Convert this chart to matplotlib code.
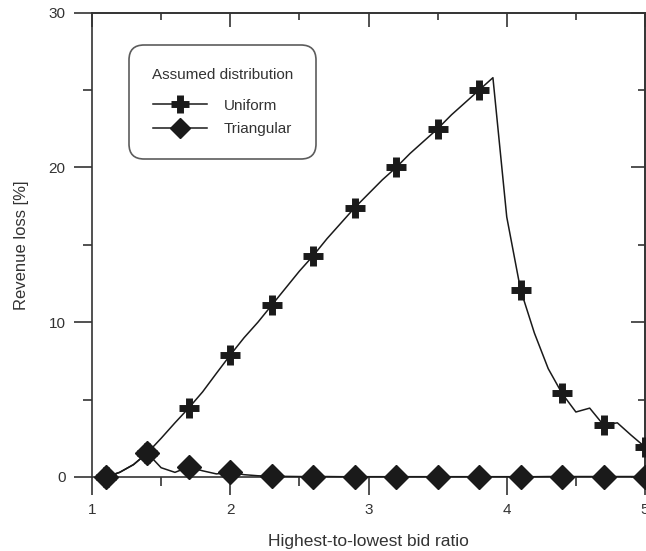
import numpy as np
import matplotlib
matplotlib.use('Agg')
import matplotlib.pyplot as plt
from matplotlib.ticker import MultipleLocator

plt.rcParams['font.family'] = ['Liberation Sans', 'DejaVu Sans']

# bid ratio, sampled every 0.1
ratio = [1.1, 1.2, 1.3, 1.4, 1.5, 1.6, 1.7, 1.8, 1.9, 2.0,
         2.1, 2.2, 2.3, 2.4, 2.5, 2.6, 2.7, 2.8, 2.9, 3.0,
         3.1, 3.2, 3.3, 3.4, 3.5, 3.6, 3.7, 3.8, 3.9, 4.0,
         4.1, 4.2, 4.3, 4.4, 4.5, 4.6, 4.7, 4.8, 4.9, 5.0]
uniform = [0.0, 0.3, 0.8, 1.55, 2.5, 3.5, 4.46, 5.5, 6.7, 7.88,
           9.0, 10.0, 11.1, 12.2, 13.3, 14.3, 15.4, 16.4, 17.4, 18.3,
           19.2, 20.0, 20.9, 21.7, 22.5, 23.4, 24.2, 25.0, 25.8, 16.8,
           12.1, 9.3, 7.0, 5.4, 4.2, 4.45, 3.36, 3.5, 2.7, 1.94]
triangular = [0.0, 0.3, 0.8, 1.55, 0.6, 0.3, 0.65, 0.4, 0.2, 0.3,
              0.15, 0.08, 0.05, 0.04, 0.03, 0.03, 0.03, 0.02, 0.02, 0.02,
              0.02, 0.02, 0.02, 0.02, 0.02, 0.02, 0.02, 0.02, 0.02, 0.02,
              0.02, 0.02, 0.03, 0.03, 0.03, 0.03, 0.03, 0.03, 0.03, 0.03]
every = 3  # markers at 1.1, 1.4, 1.7, ...

ink = '#1a1a1a'
txt = '#333333'
edge = '#333333'

fig = plt.figure(figsize=(6.46, 5.51), dpi=100)
ax = fig.add_axes([92/646, 1 - 477/551, 553/646, 464.3/551])

ax.plot(ratio, uniform, color=ink, lw=1.1, marker='+', ms=15, mew=5,
        markevery=every, label='Uniform', clip_on=False, zorder=3)
ax.plot(ratio, triangular, color=ink, lw=1.1, marker='D', ms=12,
        mfc=ink, mec=ink, markevery=every, label='Triangular',
        clip_on=False, zorder=3)

ax.set_xlim(1, 5)
ax.set_ylim(0, 30)
ax.xaxis.set_major_locator(MultipleLocator(1))
ax.xaxis.set_minor_locator(MultipleLocator(0.5))
ax.yaxis.set_major_locator(MultipleLocator(10))
ax.yaxis.set_minor_locator(MultipleLocator(5))

for s in ax.spines.values():
    s.set_linewidth(1.2)
    s.set_color(edge)

ax.tick_params(which='major', direction='out', length=13, width=1.2,
               color=edge, labelsize=11, labelcolor=txt, pad=6)
ax.tick_params(which='minor', direction='out', length=6.5, width=1.2,
               color=edge)

# inward ticks on top and right
top = ax.secondary_xaxis('top')
top.xaxis.set_major_locator(MultipleLocator(1))
top.xaxis.set_minor_locator(MultipleLocator(0.5))
right = ax.secondary_yaxis('right')
right.yaxis.set_major_locator(MultipleLocator(10))
right.yaxis.set_minor_locator(MultipleLocator(5))
for sec, side in ((top, 'top'), (right, 'right')):
    sec.tick_params(which='major', direction='in', length=10, width=1.2, color=edge)
    sec.tick_params(which='minor', direction='in', length=5, width=1.2, color=edge)
    sec.spines[side].set_linewidth(1.2)
    sec.spines[side].set_color(edge)
top.set_xticklabels([])
right.set_yticklabels([])

ax.set_xlabel('Highest-to-lowest bid ratio', fontsize=12.5, color=txt, labelpad=12)
ax.set_ylabel('Revenue loss [%]', fontsize=12, color=txt, labelpad=14)

leg = ax.legend(title='Assumed distribution', loc='upper left',
                bbox_to_anchor=(0.067, 0.93), numpoints=1, fontsize=11,
                title_fontsize=11, handlelength=3.5, handletextpad=1.1,
                borderpad=1.5, labelspacing=0.6, frameon=True, fancybox=True,
                markerscale=0.85, borderaxespad=0)
leg.get_frame().set_edgecolor(edge)
leg.get_frame().set_linewidth(1.2)
leg.get_frame().set_boxstyle('round', pad=0, rounding_size=1.0)
leg.get_title().set_color(txt)
for t in leg.get_texts():
    t.set_color(txt)
leg._legend_box.sep = 12

fig.savefig('out.png', dpi=100)
